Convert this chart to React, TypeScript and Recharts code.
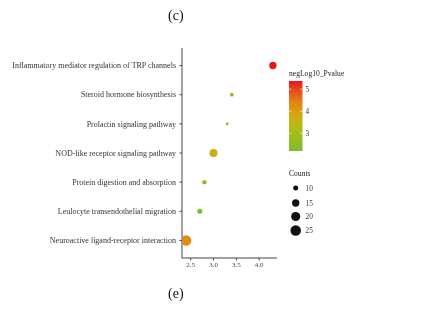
import React from 'react'
import { ScatterChart, Scatter, XAxis, YAxis, ZAxis, Cell } from 'recharts'

const pathways = [
    'Inflammatory mediator regulation of TRP channels',
    'Steroid hormone biosynthesis',
    'Prolactin signaling pathway',
    'NOD-like receptor signaling pathway',
    'Protein digestion and absorption',
    'Leulocyte transendothelial migration',
    'Neuroactive ligand-receptor interaction',
]
const enrichment = [4.3, 3.4, 3.3, 3.0, 2.8, 2.7, 2.4]
const counts = [15, 8, 7, 17, 9, 10, 25]
const negLog10P = [5.37, 2.55, 2.4, 3.75, 2.45, 2.2, 4.25]

const xTicks = [2.5, 3.0, 3.5, 4.0]
const colorTicks = [3, 4, 5]
const countTicks = [10, 15, 20, 25]

const P_MIN = 2.2
const P_MAX = 5.37
const COUNT_DOMAIN: [number, number] = [5.6, 27]
const AREA_RANGE: [number, number] = [0, 95.6]

const FONT = '"Liberation Serif", "DejaVu Serif", serif'

// green -> yellow -> orange -> red, like the ggplot gradient
const stops: [number, number[]][] = [
    [0, [124, 187, 46]],
    [0.3, [170, 190, 24]],
    [0.5, [212, 170, 14]],
    [0.72, [226, 128, 24]],
    [1, [232, 22, 28]],
]

function pColor(v: number) {
    const t = Math.max(0, Math.min(1, (v - P_MIN) / (P_MAX - P_MIN)))
    for (let i = 1; i < stops.length; i++) {
        if (t <= stops[i][0]) {
            const [t0, c0] = stops[i - 1]
            const [t1, c1] = stops[i]
            const f = (t - t0) / (t1 - t0)
            const c = c0.map((a, k) => Math.round(a + (c1[k] - a) * f))
            return `rgb(${c[0]},${c[1]},${c[2]})`
        }
    }
    return 'rgb(232,22,28)'
}

// same area mapping as the ZAxis below (Recharts symbol size = area)
function countRadius(c: number) {
    const area = AREA_RANGE[0] + (c - COUNT_DOMAIN[0]) / (COUNT_DOMAIN[1] - COUNT_DOMAIN[0]) * (AREA_RANGE[1] - AREA_RANGE[0])
    return Math.sqrt(area / Math.PI)
}

const data = pathways.map((name, i) => ({
    name,
    idx: i,
    ratio: enrichment[i],
    count: counts[i],
    p: negLog10P[i],
}))

function PathwayTick(props: any) {
    const { x, y, payload } = props
    return (
        <text x={x - 1.5} y={y} dy={2.7} textAnchor="end" fontSize={8} fill="#333" fontFamily={FONT}>
            {pathways[payload.value]}
        </text>
    )
}

function Legends() {
    const barTop = 15
    const barH = 70
    const yOf = (v: number) => barTop + (P_MAX - v) / (P_MAX - P_MIN) * barH
    return (
        <svg width={90} height={180} style={{ position: 'absolute', left: 280, top: 66, fontFamily: FONT }}>
            <defs>
                <linearGradient id="pgrad" x1="0" y1="1" x2="0" y2="0">
                    {stops.map(([t, c]) => (
                        <stop key={t} offset={`${t * 100}%`} stopColor={`rgb(${c[0]},${c[1]},${c[2]})`} />
                    ))}
                </linearGradient>
            </defs>
            <text x={9} y={9.5} fontSize={7.6} fill="#222">negLog10_Pvalue</text>
            <rect x={9} y={barTop} width={13.5} height={barH} fill="url(#pgrad)" />
            {colorTicks.map(v => (
                <g key={v}>
                    <line x1={9} x2={11.5} y1={yOf(v)} y2={yOf(v)} stroke="#fff" strokeWidth={0.6} />
                    <line x1={20} x2={22.5} y1={yOf(v)} y2={yOf(v)} stroke="#fff" strokeWidth={0.6} />
                    <text x={25.5} y={yOf(v) + 2.6} fontSize={7.3} fill="#333">{v}</text>
                </g>
            ))}
            <text x={9} y={109.5} fontSize={7.6} fill="#222">Counts</text>
            {countTicks.map((c, i) => {
                const cy = 122 + [0, 15, 28.5, 42.5][i]
                return (
                    <g key={c}>
                        <circle cx={15.7} cy={cy} r={countRadius(c)} fill="#111" />
                        <text x={25.5} y={cy + 2.6} fontSize={7.3} fill="#333">{c}</text>
                    </g>
                )
            })}
        </svg>
    )
}

export default function App() {
    return (
        <div style={{ position: 'absolute', left: 0, top: 0, width: 441, height: 321, background: '#fff' }}>
            <div style={{ position: 'absolute', left: 0, top: 0, width: 441, height: 321, fontFamily: FONT, willChange: 'transform' }}>
                <div style={{ position: 'absolute', left: 168, top: 8, fontSize: 14, color: '#111' }}>(c)</div>
                <div style={{ position: 'absolute', left: 168, top: 286, fontSize: 14, color: '#111' }}>(e)</div>
                <ScatterChart width={441} height={321} margin={{ top: 48, right: 164, bottom: 48, left: 0 }}>
                    <XAxis
                        type="number"
                        dataKey="ratio"
                        domain={[2.31, 4.39]}
                        ticks={xTicks}
                        tickFormatter={(v: number) => v.toFixed(1)}
                        allowDataOverflow
                        height={15}
                        tickSize={2.5}
                        stroke="#444"
                        tick={{ fontSize: 7, fill: '#444', fontFamily: FONT }}
                    />
                    <YAxis
                        type="number"
                        dataKey="idx"
                        domain={[-0.6, 6.6]}
                        ticks={[0, 1, 2, 3, 4, 5, 6]}
                        reversed
                        width={182}
                        tickSize={2.5}
                        interval={0}
                        stroke="#444"
                        tick={<PathwayTick />}
                    />
                    <ZAxis type="number" dataKey="count" domain={COUNT_DOMAIN} range={AREA_RANGE} />
                    <Scatter data={data} isAnimationActive={false} legendType="none">
                        {data.map(d => (
                            <Cell key={d.name} fill={pColor(d.p)} />
                        ))}
                    </Scatter>
                </ScatterChart>
                <Legends />
            </div>
        </div>
    )
}
